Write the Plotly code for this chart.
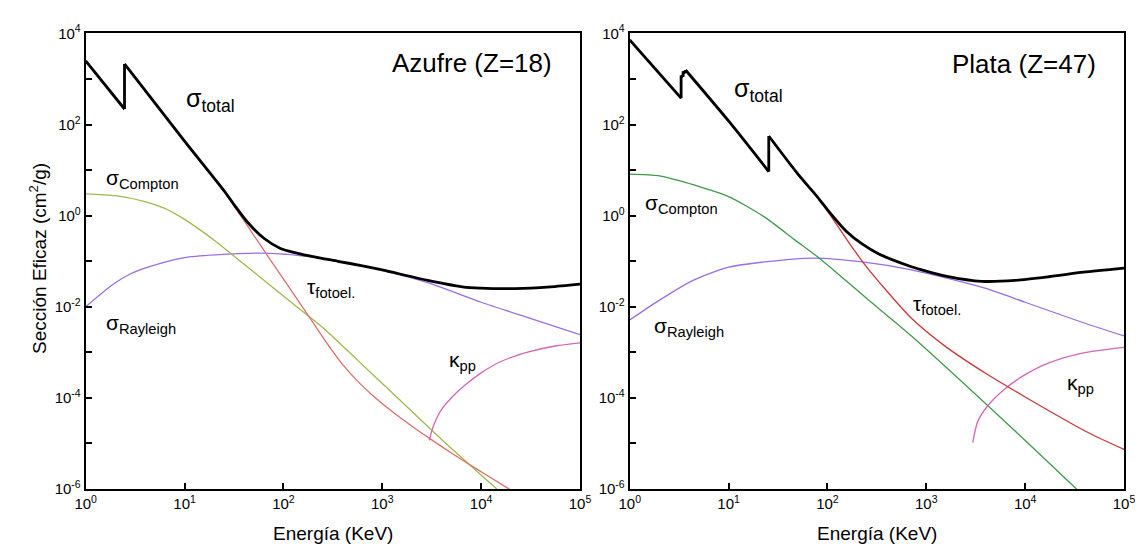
import plotly.graph_objects as go

# ---------------- Data (energies in keV, cross sections in cm^2/g) ----------------
# Azufre (Z=18)
s_total_E = [1.0, 2.47, 2.47, 10, 25.7, 32.2, 43.6, 64.0, 93.3, 137, 200, 355, 631, 1000, 2884, 6457, 9772, 22390, 50120, 100000]
s_total_v = [2500, 220, 2140, 43.4, 3.31, 1.66, 0.708, 0.316, 0.191, 0.151, 0.126, 0.100, 0.0794, 0.0646, 0.038, 0.0275, 0.0257, 0.0251, 0.0275, 0.0316]

s_photo_E = [1.0, 2.47, 2.47, 10, 25.7, 69.2, 186, 282, 398, 562, 794, 1259, 1995, 3162, 5623, 10000, 19950]
s_photo_v = [2455, 217, 2120, 42.0, 3.09, 0.132, 5.62e-3, 1.48e-3, 5.37e-4, 2.34e-4, 1.15e-4, 5.01e-5, 2.40e-5, 1.20e-5, 5.25e-6, 2.40e-6, 9.5e-7]

s_compton_E = [1.0, 2.0, 3.98, 6.31, 10, 14.1, 20.4, 39.8, 69.2, 126, 251, 562, 1245, 3981, 14450]
s_compton_v = [3.02, 2.75, 2.04, 1.445, 0.832, 0.501, 0.279, 0.0871, 0.0331, 0.01148, 3.47e-3, 6.76e-4, 1.33e-4, 1.23e-5, 1.0e-6]

s_rayleigh_E = [1.0, 1.91, 2.82, 4.27, 10, 20.4, 63.8, 200, 631, 1000, 2884, 10000, 33110, 100000]
s_rayleigh_v = [0.0100, 0.0316, 0.0525, 0.0741, 0.120, 0.138, 0.151, 0.123, 0.0794, 0.0631, 0.0339, 0.0126, 0.00537, 0.00245]

s_pair_E = [2985, 3311, 3981, 5248, 7244, 10000, 15850, 31620, 56230, 100000]
s_pair_v = [1.17e-5, 2.51e-5, 5.62e-5, 1.12e-4, 2.09e-4, 3.55e-4, 6.31e-4, 1.05e-3, 1.38e-3, 1.62e-3]

# Plata (Z=47)
a_total_E = [1.0, 3.31, 3.31, 3.47, 3.47, 3.67, 3.67, 10, 25.5, 25.5, 50.1, 79.4, 104.7, 154.9, 226, 331, 708, 977, 1622, 3631, 7943, 17380, 38900, 100000]
a_total_v = [7240, 380, 1200, 1120, 1480, 1350, 1580, 120, 9.3, 56.2, 8.3, 2.57, 1.20, 0.457, 0.237, 0.145, 0.0759, 0.0617, 0.0468, 0.0363, 0.0380, 0.0457, 0.0575, 0.0708]

a_photo_E = [1.0, 3.31, 3.31, 3.47, 3.47, 3.67, 3.67, 10, 25.5, 25.5, 50.1, 79.4, 104.7, 166, 244, 385, 708, 1585, 3981, 10000, 43250, 100000]
a_photo_v = [7200, 378, 1195, 1115, 1475, 1345, 1575, 119, 9.2, 56.0, 8.2, 2.50, 1.10, 0.251, 0.0794, 0.0243, 5.62e-3, 1.32e-3, 3.47e-4, 1.05e-4, 1.74e-5, 7.41e-6]

a_compton_E = [1.0, 1.95, 2.88, 4.37, 10, 23.0, 46.8, 84.1, 245, 708, 8511, 33110]
a_compton_v = [8.22, 7.59, 6.17, 4.79, 2.63, 0.944, 0.295, 0.114, 0.0158, 2.29e-3, 1.62e-5, 1.0e-6]

a_rayleigh_E = [1.0, 1.95, 4.37, 10, 23.0, 72.1, 226, 708, 3631, 10000, 38900, 100000]
a_rayleigh_v = [5.13e-3, 0.0135, 0.0380, 0.0741, 0.0966, 0.117, 0.0966, 0.0646, 0.0269, 0.0126, 4.47e-3, 2.29e-3]

a_pair_E = [2951, 3311, 4266, 6310, 10000, 17380, 38900, 100000]
a_pair_v = [1.05e-5, 3.02e-5, 7.08e-5, 1.62e-4, 3.24e-4, 5.89e-4, 9.77e-4, 1.29e-3]

x_tick_vals = [1, 10, 100, 1000, 10000, 100000]
x_tick_text = ["10<sup>0</sup>", "10<sup>1</sup>", "10<sup>2</sup>", "10<sup>3</sup>", "10<sup>4</sup>", "10<sup>5</sup>"]
y_tick_vals = [1e-6, 1e-5, 1e-4, 1e-3, 1e-2, 1e-1, 1, 10, 100, 1000, 10000]
y_tick_text = ["10<sup>-6</sup>", "", "10<sup>-4</sup>", "", "10<sup>-2</sup>", "", "10<sup>0</sup>", "", "10<sup>2</sup>", "", "10<sup>4</sup>"]

# ---------------- Figure ----------------
FONT = "Liberation Sans, Arial, sans-serif"
fig = go.Figure()


def seg(E, v, color, width, xa, ya, shape):
    fig.add_trace(go.Scatter(x=E, y=v, mode="lines", xaxis=xa, yaxis=ya,
                             line=dict(color=color, width=width, shape=shape, smoothing=0.7),
                             showlegend=False, hoverinfo="skip"))


def add(E, v, color, width, xa, ya):
    # smooth pieces between absorption edges; edges (repeated energies) drawn straight
    start = 0
    for i in range(1, len(E)):
        if E[i] == E[i - 1]:
            seg(E[start:i], v[start:i], color, width, xa, ya, "spline")
            seg(E[i - 1:i + 1], v[i - 1:i + 1], color, width, xa, ya, "linear")
            start = i
    seg(E[start:], v[start:], color, width, xa, ya, "spline")


# left panel (Azufre)
add(s_rayleigh_E, s_rayleigh_v, "#9b6be8", 1.3, "x", "y")
add(s_compton_E, s_compton_v, "#9cba4c", 1.3, "x", "y")
add(s_pair_E, s_pair_v, "#d465b8", 1.3, "x", "y")
add(s_photo_E, s_photo_v, "#dc6f6c", 1.3, "x", "y")
add(s_total_E, s_total_v, "#000000", 2.8, "x", "y")

# right panel (Plata)
add(a_rayleigh_E, a_rayleigh_v, "#9b6be8", 1.3, "x2", "y2")
add(a_compton_E, a_compton_v, "#3f9a47", 1.3, "x2", "y2")
add(a_pair_E, a_pair_v, "#d465b8", 1.3, "x2", "y2")
add(a_photo_E, a_photo_v, "#cc3636", 1.3, "x2", "y2")
add(a_total_E, a_total_v, "#000000", 2.8, "x2", "y2")

W, H = 1143, 546
xdom1 = [68 / W, 572 / W]
xdom2 = [622.7 / W, 1126.7 / W]
ydom = [1 - 487 / H, 1 - 15 / H]

xaxis_common = dict(type="log", range=[0, 5], tickvals=x_tick_vals, ticktext=x_tick_text,
                    ticks="inside", ticklen=6, tickwidth=1.5, tickcolor="black",
                    showline=True, linecolor="black", linewidth=2, mirror=True,
                    showgrid=False, zeroline=False, tickfont=dict(size=15, color="black", family=FONT))
yaxis_common = dict(type="log", range=[-6, 4], tickvals=y_tick_vals, ticktext=y_tick_text,
                    ticks="inside", ticklen=6, tickwidth=1.5, tickcolor="black",
                    showline=True, linecolor="black", linewidth=2, mirror=True,
                    showgrid=False, zeroline=False, tickfont=dict(size=15, color="black", family=FONT))

fig.update_layout(
    width=W, height=H,
    margin=dict(l=0, r=0, t=0, b=0),
    paper_bgcolor="white", plot_bgcolor="white",
    font=dict(family=FONT, color="black"),
    xaxis=dict(domain=xdom1, anchor="y", **xaxis_common),
    yaxis=dict(domain=ydom, anchor="x", **yaxis_common),
    xaxis2=dict(domain=xdom2, anchor="y2", **xaxis_common),
    yaxis2=dict(domain=ydom, anchor="x2", **yaxis_common),
)

ann = []


def label(text, x, y, xref, yref, size, xanchor="left"):
    ann.append(dict(text=text, x=x, y=y, xref=xref, yref=yref, showarrow=False,
                    xanchor=xanchor, yanchor="middle", font=dict(size=size, color="black", family=FONT)))


# left labels (positions in log10 units)
label("Azufre (Z=18)", 4.74, 3.36, "x", "y", 26, "right")
label("σ<sub>total</sub>", 0.99, 2.55, "x", "y", 25)
label("σ<sub>Compton</sub>", 0.185, 0.80, "x", "y", 21)
label("σ<sub>Rayleigh</sub>", 0.19, -2.38, "x", "y", 21)
label("τ<sub>fotoel.</sub>", 2.22, -1.58, "x", "y", 21)
label("κ<sub>pp</sub>", 3.655, -3.18, "x", "y", 21)

# right labels
label("Plata (Z=47)", 4.74, 3.34, "x2", "y2", 26, "right")
label("σ<sub>total</sub>", 1.03, 2.75, "x2", "y2", 25)
label("σ<sub>Compton</sub>", 0.137, 0.26, "x2", "y2", 21)
label("σ<sub>Rayleigh</sub>", 0.223, -2.44, "x2", "y2", 21)
label("τ<sub>fotoel.</sub>", 2.85, -1.96, "x2", "y2", 21)
label("κ<sub>pp</sub>", 4.40, -3.70, "x2", "y2", 21)

# axis titles
for dom in (xdom1, xdom2):
    ann.append(dict(text="Energía (KeV)", x=(dom[0] + dom[1]) / 2, y=1 - 533 / H, xref="paper", yref="paper",
                    showarrow=False, xanchor="center", yanchor="middle",
                    font=dict(size=19, color="black", family=FONT)))
ann.append(dict(text="Sección Eficaz (cm<sup>2</sup>/g)", x=20 / W, y=1 - 248 / H, xref="paper", yref="paper",
                showarrow=False, xanchor="center", yanchor="middle", textangle=-90,
                font=dict(size=19, color="black", family=FONT)))

fig.update_layout(annotations=ann)
fig.write_html("out.html")
